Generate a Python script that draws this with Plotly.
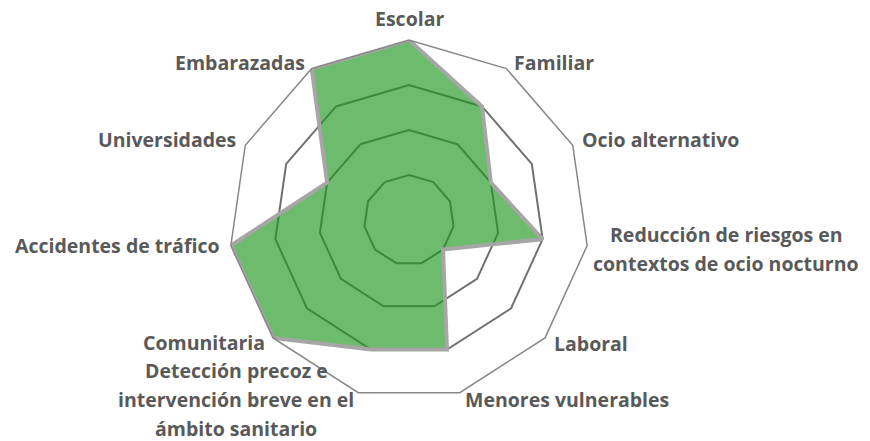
import plotly.graph_objects as go

# Categories, clockwise from the top
categories = [
    "Escolar",
    "Familiar",
    "Ocio alternativo",
    "Reducción de riesgos en contextos de ocio nocturno",
    "Laboral",
    "Menores vulnerables",
    "Detección precoz e intervención breve en el ámbito sanitario",
    "Comunitaria",
    "Accidentes de tráfico",
    "Universidades",
    "Embarazadas",
]
values = [4, 3, 2, 3, 1, 3, 3, 4, 4, 2, 4]

# how each category label is broken into lines
label_lines = [
    ["Escolar"],
    ["Familiar"],
    ["Ocio alternativo"],
    ["Reducción de riesgos en", "contextos de ocio nocturno"],
    ["Laboral"],
    ["Menores vulnerables"],
    ["Detección precoz e", "intervención breve en el", "ámbito sanitario"],
    ["Comunitaria"],
    ["Accidentes de tráfico"],
    ["Universidades"],
    ["Embarazadas"],
]

W, H = 862, 433          # page body has an 8px default margin
OFF = 8
CX, CY, R = 409, 220, 180  # polar centre / radius in window pixels
LINE_GAP = 29
LABEL_COLOR = "#595959"
FONT = "Open Sans"

# label anchor (window px): x, y of first line centre, xanchor
label_pos = [
    (409, 19, "center"),
    (512, 62, "left"),
    (580, 140, "left"),
    (726, 234, "center"),
    (552, 343, "left"),
    (463, 399, "left"),
    (236, 370, "center"),
    (267, 342, "right"),
    (222, 245, "right"),
    (238, 140, "right"),
    (307, 62, "right"),
]

fig = go.Figure()
fig.add_trace(go.Scatterpolar(
    r=values + values[:1],
    theta=categories + categories[:1],
    mode="lines",
    fill="toself",
    fillcolor="rgba(30,150,30,0.65)",
    line=dict(color="#a6a6a6", width=4),
    hoverinfo="skip",
))

for lines, (x, y, anchor) in zip(label_lines, label_pos):
    for i, txt in enumerate(lines):
        fig.add_annotation(
            text=txt,
            xref="paper", yref="paper",
            x=(x - OFF) / W,
            y=1 - (y - OFF + i * LINE_GAP) / H,
            xanchor=anchor, yanchor="middle",
            showarrow=False,
            font=dict(family=FONT, size=19.5, color=LABEL_COLOR, weight="bold"),
        )

fig.update_layout(
    width=W,
    height=H,
    margin=dict(l=0, r=0, t=0, b=0),
    paper_bgcolor="white",
    showlegend=False,
    polar=dict(
        domain=dict(
            x=[(CX - OFF - R) / W, (CX - OFF + R) / W],
            y=[1 - (CY - OFF + R) / H, 1 - (CY - OFF - R) / H],
        ),
        bgcolor="white",
        gridshape="linear",
        radialaxis=dict(
            range=[0, 4],
            tickvals=[1, 2, 3],
            showticklabels=False,
            ticks="",
            showline=False,
            gridcolor="#707070",
            gridwidth=2,
        ),
        angularaxis=dict(
            rotation=90,
            direction="clockwise",
            showgrid=False,
            showticklabels=False,
            ticks="",
            linecolor="#878787",
            linewidth=1.5,
        ),
    ),
)

fig.write_html("out.html")
